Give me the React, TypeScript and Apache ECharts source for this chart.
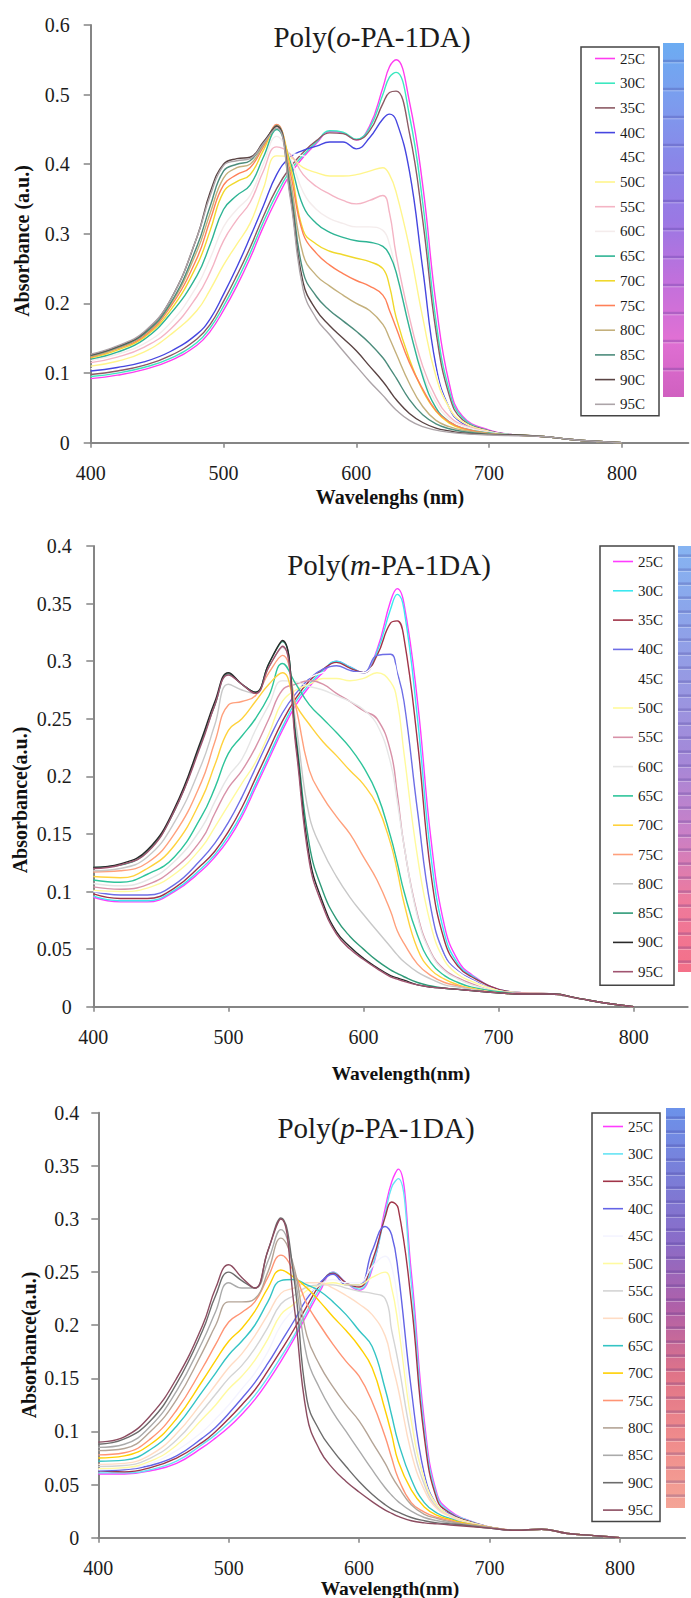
import React, { useEffect, useRef } from 'react';
import * as echarts from 'echarts';

// ---------------- data ----------------
const WAVELENGTHS = [400, 420, 440, 460, 480, 490, 500, 510, 520, 530, 540, 550, 560, 570, 580, 590, 600, 610, 620, 625, 630, 640, 650, 660, 670, 680, 700, 720, 740, 760, 780, 800];
const TEMPERATURES = ['25C', '30C', '35C', '40C', '45C', '50C', '55C', '60C', '65C', '70C', '75C', '80C', '85C', '90C', '95C'];
const X_TICKS = [400, 500, 600, 700, 800];

// Poly(o-PA-1DA), one row per temperature
const O_ABS: number[][] = [
  [.092, .097, .105, .118, .14, .16, .19, .225, .265, .31, .35, .385, .41, .43, .447, .445, .435, .455, .51, .54, .55, .49, .37, .2, .085, .038, .018, .011, .009, .005, .002, 0],
  [.095, .1, .108, .121, .144, .165, .196, .232, .272, .317, .357, .39, .413, .432, .448, .446, .436, .452, .5, .525, .532, .47, .345, .175, .075, .036, .017, .011, .009, .005, .002, 0],
  [.098, .103, .111, .125, .149, .17, .203, .24, .28, .325, .365, .395, .417, .434, .445, .444, .435, .448, .487, .503, .505, .445, .32, .16, .068, .033, .017, .011, .009, .005, .002, 0],
  [.103, .108, .116, .131, .156, .178, .213, .252, .295, .34, .385, .41, .42, .426, .432, .432, .422, .438, .465, .472, .463, .39, .25, .11, .05, .028, .016, .011, .009, .005, .002, 0],
  [.106, .112, .124, .145, .18, .205, .24, .275, .31, .355, .405, .415, .412, .408, .405, .405, .405, .41, .418, .415, .395, .32, .2, .1, .05, .03, .016, .011, .009, .005, .002, 0],
  [.11, .117, .13, .155, .19, .22, .255, .285, .315, .365, .412, .41, .395, .388, .383, .383, .385, .39, .395, .385, .36, .28, .18, .095, .05, .03, .016, .011, .009, .005, .002, 0],
  [.115, .123, .137, .163, .21, .245, .29, .32, .345, .39, .425, .415, .385, .368, .357, .348, .343, .348, .355, .33, .27, .18, .11, .065, .038, .026, .015, .011, .009, .005, .002, 0],
  [.118, .127, .142, .172, .225, .265, .31, .335, .355, .4, .44, .41, .36, .335, .322, .315, .31, .31, .305, .285, .245, .165, .1, .058, .034, .024, .015, .011, .009, .005, .002, 0],
  [.12, .13, .148, .185, .24, .285, .335, .355, .37, .41, .45, .405, .34, .315, .302, .295, .29, .288, .282, .27, .245, .165, .095, .05, .03, .021, .014, .011, .009, .005, .002, 0],
  [.122, .133, .151, .19, .255, .305, .36, .375, .385, .42, .455, .4, .305, .285, .275, .27, .265, .26, .25, .225, .18, .12, .075, .045, .028, .02, .013, .011, .009, .005, .002, 0],
  [.123, .135, .153, .195, .265, .32, .37, .385, .395, .425, .457, .39, .3, .272, .255, .243, .233, .225, .212, .19, .165, .115, .077, .046, .03, .021, .013, .011, .009, .005, .002, 0],
  [.124, .136, .155, .198, .275, .33, .38, .395, .4, .428, .456, .38, .27, .24, .225, .212, .2, .19, .17, .15, .128, .085, .052, .032, .023, .018, .013, .011, .009, .005, .002, 0],
  [.125, .137, .156, .2, .282, .34, .39, .4, .405, .43, .455, .37, .245, .21, .19, .175, .16, .143, .122, .108, .093, .062, .04, .027, .02, .016, .012, .011, .009, .005, .002, 0],
  [.126, .138, .158, .205, .295, .36, .4, .408, .41, .432, .455, .36, .23, .19, .168, .15, .132, .11, .088, .075, .062, .042, .029, .021, .017, .014, .012, .011, .009, .005, .002, 0],
  [.127, .139, .159, .205, .295, .355, .398, .405, .408, .43, .452, .355, .22, .178, .155, .132, .11, .088, .068, .057, .047, .032, .023, .018, .015, .013, .011, .01, .009, .005, .002, 0],
];

// Poly(m-PA-1DA)
const M_ABS: number[][] = [
  [.095, .091, .091, .1, .118, .13, .145, .165, .19, .215, .24, .262, .278, .29, .3, .295, .29, .31, .352, .363, .35, .265, .145, .07, .04, .028, .015, .012, .011, .007, .003, 0],
  [.096, .092, .092, .101, .12, .132, .148, .168, .193, .218, .243, .265, .28, .292, .3, .295, .29, .308, .345, .358, .345, .25, .13, .063, .037, .027, .015, .012, .011, .007, .003, 0],
  [.098, .094, .094, .103, .123, .135, .152, .173, .198, .223, .248, .268, .283, .293, .299, .294, .29, .305, .333, .335, .32, .23, .115, .057, .035, .026, .015, .012, .011, .007, .003, 0],
  [.1, .097, .097, .106, .128, .142, .16, .182, .207, .232, .255, .272, .285, .293, .296, .292, .29, .305, .306, .29, .265, .17, .085, .045, .031, .024, .014, .012, .011, .007, .003, 0],
  [.1, .099, .101, .112, .135, .15, .17, .19, .215, .242, .268, .28, .286, .29, .292, .29, .29, .298, .3, .285, .245, .145, .075, .042, .03, .023, .014, .012, .011, .007, .003, 0],
  [.101, .1, .103, .115, .138, .156, .175, .194, .212, .237, .265, .275, .28, .285, .285, .283, .285, .29, .282, .265, .22, .13, .07, .04, .028, .022, .014, .012, .011, .007, .003, 0],
  [.104, .102, .106, .12, .145, .168, .19, .205, .225, .25, .275, .28, .283, .28, .272, .265, .257, .25, .222, .185, .14, .08, .047, .032, .025, .02, .013, .012, .011, .007, .003, 0],
  [.107, .105, .11, .126, .155, .178, .2, .215, .24, .262, .283, .282, .278, .275, .27, .265, .258, .245, .212, .178, .14, .078, .046, .031, .024, .019, .013, .011, .011, .007, .003, 0],
  [.11, .108, .115, .13, .165, .19, .22, .235, .25, .27, .298, .28, .262, .25, .238, .225, .208, .185, .148, .125, .1, .062, .038, .027, .021, .017, .013, .011, .011, .007, .003, 0],
  [.113, .112, .12, .14, .18, .21, .24, .25, .265, .28, .29, .262, .245, .23, .218, .205, .193, .175, .142, .118, .09, .05, .032, .024, .019, .016, .012, .011, .011, .007, .003, 0],
  [.117, .118, .125, .15, .195, .23, .262, .265, .27, .29, .305, .26, .205, .182, .165, .15, .13, .11, .083, .066, .055, .037, .027, .021, .018, .015, .012, .011, .011, .007, .003, 0],
  [.118, .12, .13, .16, .21, .245, .28, .275, .272, .295, .312, .245, .165, .135, .113, .095, .08, .066, .052, .045, .039, .03, .024, .019, .017, .015, .012, .011, .011, .007, .003, 0],
  [.121, .123, .135, .17, .23, .262, .289, .28, .273, .298, .317, .235, .14, .1, .076, .061, .05, .04, .032, .029, .026, .021, .018, .016, .015, .014, .012, .011, .011, .007, .003, 0],
  [.121, .124, .136, .172, .232, .265, .29, .28, .273, .298, .318, .23, .13, .09, .065, .052, .042, .034, .027, .025, .023, .019, .017, .016, .015, .014, .012, .011, .011, .007, .003, 0],
  [.12, .123, .134, .17, .228, .262, .288, .28, .272, .295, .313, .225, .125, .087, .063, .05, .041, .033, .026, .024, .022, .019, .017, .016, .015, .014, .012, .011, .011, .007, .003, 0],
];

// Poly(p-PA-1DA)
const P_ABS: number[][] = [
  [.06, .06, .063, .07, .085, .094, .104, .116, .13, .147, .166, .187, .21, .232, .25, .24, .233, .253, .31, .335, .347, .25, .11, .04, .025, .018, .01, .007, .008, .004, .002, 0],
  [.061, .061, .064, .072, .088, .097, .108, .12, .134, .151, .17, .19, .213, .235, .25, .24, .234, .255, .305, .33, .338, .24, .103, .038, .024, .018, .01, .007, .008, .004, .002, 0],
  [.063, .062, .066, .075, .09, .1, .112, .125, .139, .157, .176, .196, .218, .238, .249, .24, .236, .26, .302, .316, .31, .222, .095, .035, .023, .017, .01, .007, .008, .004, .002, 0],
  [.063, .064, .068, .077, .094, .104, .117, .131, .146, .164, .184, .204, .225, .24, .248, .238, .238, .27, .293, .285, .25, .14, .06, .03, .022, .016, .01, .007, .008, .004, .002, 0],
  [.064, .065, .07, .082, .1, .112, .125, .14, .155, .175, .2, .215, .228, .238, .243, .24, .24, .255, .265, .255, .22, .12, .055, .03, .021, .016, .01, .007, .008, .004, .002, 0],
  [.065, .066, .072, .087, .112, .125, .14, .152, .167, .187, .21, .22, .233, .238, .24, .238, .238, .245, .25, .235, .2, .11, .055, .03, .021, .016, .01, .007, .008, .004, .002, 0],
  [.067, .068, .075, .092, .12, .135, .15, .162, .178, .198, .22, .228, .236, .238, .238, .235, .232, .23, .225, .195, .165, .095, .05, .028, .02, .015, .01, .007, .008, .004, .002, 0],
  [.069, .07, .078, .098, .128, .144, .16, .173, .19, .21, .23, .235, .24, .24, .235, .228, .22, .21, .19, .165, .14, .08, .045, .027, .02, .015, .01, .007, .008, .004, .002, 0],
  [.072, .073, .083, .105, .138, .155, .172, .185, .2, .222, .242, .243, .238, .232, .222, .21, .195, .18, .14, .115, .09, .055, .033, .023, .018, .014, .01, .007, .008, .004, .002, 0],
  [.075, .077, .088, .112, .148, .167, .185, .197, .213, .235, .252, .245, .235, .222, .208, .195, .18, .16, .12, .097, .072, .045, .029, .021, .017, .014, .01, .007, .008, .004, .002, 0],
  [.078, .08, .093, .12, .16, .182, .203, .212, .222, .245, .266, .25, .22, .2, .182, .166, .152, .128, .095, .075, .056, .033, .024, .019, .016, .013, .01, .007, .008, .004, .002, 0],
  [.082, .084, .1, .13, .175, .2, .222, .222, .225, .25, .282, .255, .19, .162, .142, .125, .11, .09, .07, .058, .048, .031, .022, .018, .015, .013, .01, .007, .008, .004, .002, 0],
  [.085, .088, .105, .138, .185, .213, .24, .235, .235, .26, .29, .25, .17, .14, .118, .1, .082, .064, .047, .04, .034, .025, .019, .016, .014, .012, .009, .007, .008, .004, .002, 0],
  [.088, .093, .11, .145, .195, .228, .25, .242, .235, .27, .301, .245, .13, .1, .082, .067, .053, .041, .031, .027, .024, .019, .016, .014, .013, .012, .009, .007, .008, .004, .002, 0],
  [.09, .095, .115, .15, .2, .235, .257, .245, .235, .27, .3, .22, .115, .082, .065, .053, .043, .034, .026, .023, .02, .016, .014, .013, .012, .011, .009, .007, .008, .004, .002, 0],
];

const O_COLORS = ['#ff3cf0', '#3ce8c0', '#8c5a64', '#4646e0', '#ffffff', '#fff58c', '#f4b4c4', '#f4ecec', '#2eb494', '#f0d82c', '#ff8058', '#c4b07c', '#4c8c7c', '#5a4444', '#aca4a8'];
const M_COLORS = ['#ff3cff', '#3ce8f0', '#a03448', '#6e6ee6', '#ffffff', '#fffa9c', '#d892a8', '#e6e6e6', '#2ec49a', '#ffd23c', '#ffa07c', '#c8c8c8', '#2e9a78', '#2a2a2a', '#a05470'];
const P_COLORS = ['#ff3cff', '#66e4f4', '#a03448', '#6464e6', '#f4f4ff', '#fffaa0', '#d4d4d4', '#ffdcc4', '#34c4c4', '#ffd000', '#ff9474', '#b4a496', '#aaaaaa', '#6c6c6c', '#8c4c60'];

const TITLES = ['Poly({i|o}-PA-1DA)', 'Poly({i|m}-PA-1DA)', 'Poly({i|p}-PA-1DA)'];
const X_NAMES = ['Wavelenghs (nm)', 'Wavelength(nm)', 'Wavelength(nm)'];
const Y_NAMES = ['Absorbance (a.u.)', 'Absorbance(a.u.)', 'Absorbance(a.u.)'];
const PANEL_KEYS = ['o', 'm', 'p'];

// ---------------- layout / style ----------------
const SERIF = '"Liberation Serif", "Times New Roman", serif';
const AXIS_GREY = '#858585';
const TEXT = '#1c1c1c';
const LEGEND_LINE = 'path://M0,0L20,0L20,1.6L0,1.6Z';

const LAYOUT = [
  {
    grid: { left: 90.7, top: 25, width: 597.6, height: 417.7 }, xMax: 850, yMax: 0.6, yInterval: 0.1, yLabelMargin: 21,
    title: { x: 372, top: 22.5 }, xName: { x: 390, y: 497, size: 20 }, yName: { x: 22, y: 241, size: 20 },
    legend: { left: 581, top: 47, padding: [4, 14, 4, 14], itemGap: 9.7 },
    bar: { x: 663, y: 43, w: 21, h: 354, step: 28, stops: ['#6cacf2', '#7c9cee', '#8a86e8', '#9a78e4', '#c070dc', '#e070d4', '#d060c0'] },
  },
  {
    grid: { left: 93.3, top: 546, width: 594.4, height: 460.7 }, xMax: 840, yMax: 0.4, yInterval: 0.05, yLabelMargin: 21.5,
    title: { x: 389, top: 550.5 }, xName: { x: 401, y: 1073, size: 19.5 }, yName: { x: 20, y: 800, size: 20 },
    legend: { left: 600, top: 546, padding: [8, 11, 6, 13], itemGap: 14.3 },
    bar: { x: 678, y: 546, w: 14, h: 426, step: 14, stops: ['#86b4f2', '#8ca4ea', '#9898e2', '#a488d8', '#c880c8', '#ee7a9c', '#f47088'] },
  },
  {
    grid: { left: 98.3, top: 1112.8, width: 586.8, height: 424.9 }, xMax: 850, yMax: 0.4, yInterval: 0.05, yLabelMargin: 19,
    title: { x: 376, top: 1113 }, xName: { x: 390, y: 1588, size: 19.5 }, yName: { x: 29, y: 1345, size: 20 },
    legend: { left: 592, top: 1113, padding: [6, 7, 4, 11], itemGap: 12.4 },
    bar: { x: 666, y: 1108, w: 19, h: 400, step: 14, stops: ['#6c92ea', '#7a7ed8', '#8a6cc8', '#b060a8', '#e07488', '#f08c8c', '#f4a496'] },
  },
];

const PANEL_DATA = [O_ABS, M_ABS, P_ABS];
const PANEL_COLORS = [O_COLORS, M_COLORS, P_COLORS];

function buildOption() {
  const grid: any[] = [];
  const xAxis: any[] = [];
  const yAxis: any[] = [];
  const series: any[] = [];
  const legend: any[] = [];
  const title: any[] = [];
  const graphic: any[] = [];

  LAYOUT.forEach((L, pi) => {
    grid.push({ ...L.grid, containLabel: false });
    xAxis.push({
      type: 'value', gridIndex: pi, min: 400, max: L.xMax, interval: 100,
      axisLine: { show: true, onZero: false, lineStyle: { color: AXIS_GREY, width: 2 } },
      axisTick: { show: true, length: 5, customValues: X_TICKS, lineStyle: { color: AXIS_GREY, width: 1.5 } },
      axisLabel: { customValues: X_TICKS, margin: 20, fontSize: 20, fontFamily: SERIF, color: TEXT, lineHeight: 20 },
      splitLine: { show: false },
    });
    yAxis.push({
      type: 'value', gridIndex: pi, min: 0, max: L.yMax, interval: L.yInterval,
      axisLine: { show: true, lineStyle: { color: AXIS_GREY, width: 2 } },
      axisTick: { show: true, length: 7, lineStyle: { color: AXIS_GREY, width: 1.5 } },
      axisLabel: { margin: L.yLabelMargin, fontSize: 20, fontFamily: SERIF, color: TEXT },
      splitLine: { show: false },
    });

    const names: string[] = [];
    PANEL_DATA[pi].forEach((row, ti) => {
      const name = `${PANEL_KEYS[pi]}|${TEMPERATURES[ti]}`;
      names.push(name);
      const color = PANEL_COLORS[pi][ti];
      series.push({
        type: 'line', name, xAxisIndex: pi, yAxisIndex: pi,
        data: WAVELENGTHS.map((w, i) => [w, row[i]]),
        symbol: 'none', showSymbol: false, smooth: 0.45,
        lineStyle: { width: 1.4, color }, itemStyle: { color },
        emphasis: { disabled: true }, silent: true,
      });
    });

    legend.push({
      data: names, orient: 'vertical', left: L.legend.left, top: L.legend.top,
      padding: L.legend.padding, itemGap: L.legend.itemGap, itemWidth: 20, itemHeight: 14,
      icon: LEGEND_LINE,
      borderColor: '#444', borderWidth: 1.5, backgroundColor: '#fff', selectedMode: false,
      formatter: (n: string) => n.split('|')[1],
      textStyle: { fontFamily: SERIF, fontSize: 15, color: TEXT, lineHeight: 14 },
    });

    title.push({
      text: TITLES[pi], left: L.title.x, top: L.title.top, textAlign: 'center', padding: 0,
      textStyle: {
        fontFamily: SERIF, fontSize: 29, fontWeight: 'normal', color: TEXT, lineHeight: 29,
        rich: { i: { fontFamily: SERIF, fontSize: 29, fontStyle: 'italic', color: TEXT, lineHeight: 29 } },
      },
    });

    graphic.push({
      type: 'text', x: L.xName.x, y: L.xName.y,
      style: { text: X_NAMES[pi], fontFamily: SERIF, fontSize: L.xName.size, fontWeight: 'bold', fill: '#111', align: 'center', verticalAlign: 'middle' },
    });
    graphic.push({
      type: 'text', x: L.yName.x, y: L.yName.y, rotation: Math.PI / 2,
      style: { text: Y_NAMES[pi], fontFamily: SERIF, fontSize: L.yName.size, fontWeight: 'bold', fill: '#111', align: 'center', verticalAlign: 'middle' },
    });

    const B = L.bar;
    const stops = B.stops.map((c, i) => ({ offset: i / (B.stops.length - 1), color: c }));
    graphic.push({
      type: 'rect', shape: { x: B.x, y: B.y, width: B.w, height: B.h }, silent: true,
      style: { fill: new echarts.graphic.LinearGradient(0, 0, 0, 1, stops) },
    });
    for (let yy = B.y + B.step * 0.6; yy < B.y + B.h - 3; yy += B.step) {
      graphic.push({ type: 'rect', silent: true, shape: { x: B.x, y: yy, width: B.w, height: 2.5 }, style: { fill: 'rgba(50,40,130,0.22)' } });
      graphic.push({ type: 'rect', silent: true, shape: { x: B.x, y: yy + 2.5, width: B.w, height: 1 }, style: { fill: 'rgba(255,255,255,0.35)' } });
    }
  });

  return { animation: false, backgroundColor: '#ffffff', grid, xAxis, yAxis, series, legend, title, graphic };
}

export default function App() {
  const ref = useRef<HTMLDivElement>(null);
  useEffect(() => {
    if (!ref.current) return;
    const chart = echarts.init(ref.current, undefined, { renderer: 'svg' });
    chart.setOption(buildOption() as any);
    return () => chart.dispose();
  }, []);
  return <div ref={ref} style={{ position: 'absolute', left: 0, top: 0, width: 691, height: 1598, background: '#fff' }} />;
}
